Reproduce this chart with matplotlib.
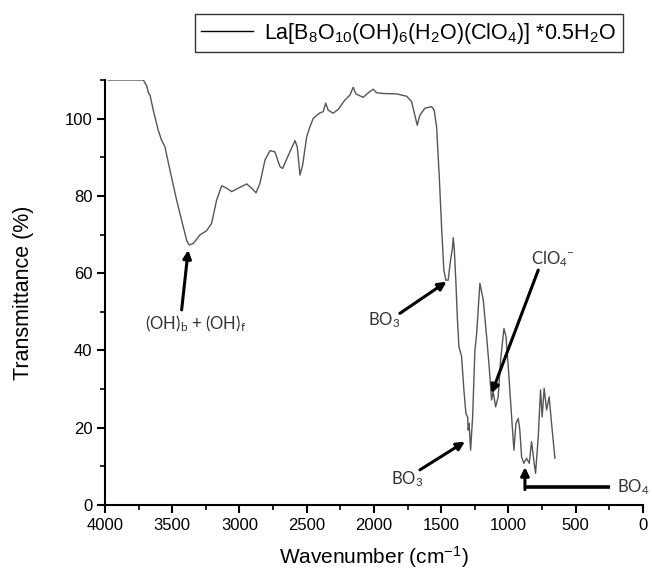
import matplotlib
matplotlib.use("Agg")
import matplotlib.pyplot as plt
from matplotlib.ticker import MultipleLocator

plt.rcParams['font.family'] = ['Liberation Sans', 'DejaVu Sans']
plt.rcParams['mathtext.default'] = 'regular'

# IR spectrum (wavenumber in cm-1, transmittance in %)
wavenumber = [3975, 3715, 3690, 3675, 3665, 3641, 3604, 3580, 3554, 3517,
              3467, 3418, 3390, 3373, 3343, 3294, 3244, 3207, 3170, 3132,
              3095, 3058, 3009, 2946, 2909, 2877, 2848, 2810, 2773, 2736,
              2699, 2679, 2625, 2587, 2570, 2550, 2530, 2500, 2476, 2451,
              2401, 2377, 2359, 2340, 2303, 2265, 2216, 2178, 2154, 2134,
              2080, 2042, 2005, 1980, 1931, 1831, 1757, 1720, 1700, 1678,
              1658, 1621, 1571, 1552, 1534, 1514, 1497, 1480, 1465, 1448,
              1430, 1416, 1410, 1402, 1390, 1380, 1368, 1348, 1331, 1316,
              1303, 1299, 1292, 1281, 1266, 1249, 1236, 1212, 1187, 1162,
              1143, 1125, 1113, 1095, 1076, 1058, 1033, 1018, 1001, 976,
              959, 944, 927, 915, 902, 885, 865, 845, 828, 811,
              798, 778, 761, 749, 734, 716, 697, 679, 654]
transmittance = [110.0, 110.0, 108.5, 106.5, 106.1, 102.2, 97.0, 94.5, 92.7, 86.7,
                 78.9, 72.0, 68.2, 67.3, 67.7, 69.9, 71.0, 72.9, 78.9, 82.6,
                 82.0, 81.1, 82.0, 83.1, 82.0, 80.8, 83.2, 89.3, 91.7, 91.4,
                 87.6, 87.1, 91.4, 94.3, 92.7, 85.4, 88.0, 95.3, 97.9, 100.1,
                 101.5, 101.8, 104.0, 102.2, 101.4, 102.4, 104.8, 106.1, 108.1, 106.4,
                 105.5, 106.7, 107.6, 106.7, 106.5, 106.4, 105.8, 104.4, 101.5, 98.3,
                 100.9, 102.7, 103.1, 102.2, 97.9, 85.0, 72.0, 60.8, 58.2, 58.2,
                 63.4, 66.5, 69.2, 66.0, 57.4, 48.7, 41.0, 38.4, 29.8, 23.7,
                 22.8, 19.4, 21.1, 14.2, 22.8, 40.1, 44.4, 57.4, 53.1, 43.6,
                 35.8, 27.2, 29.3, 25.4, 28.0, 37.5, 45.7, 43.6, 35.8, 22.8,
                 14.2, 21.1, 22.4, 19.4, 12.5, 10.8, 12.1, 10.8, 16.4, 11.6,
                 8.2, 17.7, 29.8, 22.8, 30.2, 24.6, 28.0, 21.1, 12.1]

series_label = r'La[B$_8$O$_{10}$(OH)$_6$(H$_2$O)(ClO$_4$)] *0.5H$_2$O'

fig = plt.figure(figsize=(6.52, 5.75), dpi=100)
ax = fig.add_axes([0.161, 0.1217, 0.825, 0.7392])

ax.plot(wavenumber, transmittance, color='#555555', lw=1.0, label=series_label)

ax.set_xlim(4000, 0)
ax.set_ylim(0, 110)
ax.xaxis.set_major_locator(MultipleLocator(500))
ax.xaxis.set_minor_locator(MultipleLocator(250))
ax.yaxis.set_major_locator(MultipleLocator(20))
ax.yaxis.set_minor_locator(MultipleLocator(10))

for s in ['top', 'right']:
    ax.spines[s].set_visible(False)
for s in ['left', 'bottom']:
    ax.spines[s].set_linewidth(1.5)
ax.tick_params(which='major', direction='out', length=6, width=1.5, labelsize=12, pad=3)
ax.tick_params(which='minor', direction='out', length=3.5, width=1.2)
for lab in ax.get_xticklabels() + ax.get_yticklabels():
    lab.set_clip_on(False)

ax.set_xlabel('Wavenumber (cm$^{-1}$)', fontsize=15, labelpad=8)
ax.set_ylabel('Transmittance (%)', fontsize=15.5, labelpad=22)

leg = ax.legend(loc='center', bbox_to_anchor=(0.627, 0.942), bbox_transform=fig.transFigure,
                fontsize=15.5, frameon=True, fancybox=False, handlelength=2.4,
                borderpad=0.3, handletextpad=0.5)
leg.get_frame().set_edgecolor('black')
leg.get_frame().set_linewidth(1.0)
for line in leg.get_lines():
    line.set_color('black')
    line.set_linewidth(1.0)

# band assignments with arrows
afont = dict(family=['Lato', 'DejaVu Sans'], fontsize=12, color='#333333')
arrow = dict(arrowstyle='-|>', color='black', lw=2.2, mutation_scale=12, shrinkA=0, shrinkB=0)

ax.annotate('', xy=(3381, 66.0), xytext=(3430, 50.5), arrowprops=arrow)
ax.text(3327, 47.0, r'(OH)$_b$ + (OH)$_f$', ha='center', va='center', **afont)

ax.annotate('', xy=(1460, 57.8), xytext=(1807, 49.6), arrowprops=arrow)
ax.text(1925, 47.8, r'BO$_3$', ha='center', va='center', **afont)

ax.annotate('', xy=(1323, 16.4), xytext=(1658, 9.1), arrowprops=arrow)
ax.text(1751, 6.8, r'BO$_3$', ha='center', va='center', **afont)

ax.annotate('', xy=(1125, 28.9), xytext=(778, 60.8), arrowprops=arrow)
ax.text(669, 63.6, r'ClO$_4$$^{-}$', ha='center', va='center', **afont)

ax.plot([245, 877], [4.66, 4.66], color='black', lw=2.6, clip_on=False, solid_capstyle='butt')
ax.annotate('', xy=(877, 9.8), xytext=(877, 4.0), arrowprops=arrow)
ax.text(193, 4.66, r'BO$_4$', ha='left', va='center', clip_on=False, **afont)

fig.savefig('out.png', dpi=100)
